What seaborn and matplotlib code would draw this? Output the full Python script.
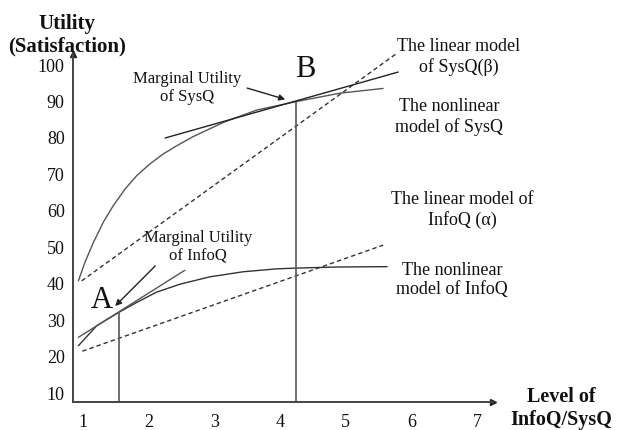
import numpy as np
import pandas as pd
import seaborn as sns
import matplotlib.pyplot as plt

# values
sysq_curve_x = [0.93, 1.03, 1.16, 1.31, 1.46, 1.64, 1.82, 2.02, 2.22, 2.43, 2.68,
                3.14, 3.65, 4.25, 4.91, 5.57]
sysq_curve_y = [40.5, 45.6, 51.1, 56.6, 61.1, 65.7, 69.4, 72.6, 75.3, 77.6, 80.1,
                84.0, 87.4, 89.7, 92.0, 93.3]
sysq_tangent_x = [2.25, 5.80]
sysq_tangent_y = [79.7, 97.8]
sysq_linear_x = [0.98, 5.83]
sysq_linear_y = [40.5, 103.6]

infoq_curve_x = [0.93, 1.21, 1.55, 1.82, 2.12, 2.48, 2.93, 3.44, 3.95, 4.25, 4.86, 5.63]
infoq_curve_y = [22.7, 28.2, 31.9, 34.6, 37.4, 39.6, 41.6, 43.0, 43.8, 44.0, 44.3, 44.4]
infoq_tangent_x = [0.93, 2.55]
infoq_tangent_y = [25.0, 43.4]
infoq_linear_x = [0.99, 5.57]
infoq_linear_y = [21.2, 50.3]

point_a = (1.55, 31.9)
point_b = (4.25, 89.7)

x_ticks = [1, 2, 3, 4, 5, 6, 7]
y_ticks = [10, 20, 30, 40, 50, 60, 70, 80, 90, 100]

sns.set_theme(style="white")
plt.rcParams['font.family'] = ['Liberation Serif', 'DejaVu Serif']

W, H = 617, 431
fig = plt.figure(figsize=(W / 100, H / 100), dpi=100)
ax = fig.add_axes([73 / W, 28 / H, (493 - 73) / W, (403 - 55) / H])

line_col = '#3a3a3a'
dash = (0, (3.2, 2.2))

def draw(xs, ys, style='-', col=line_col, lw=1.0):
    df = pd.DataFrame({'x': xs, 'y': ys})
    sns.lineplot(data=df, x='x', y='y', ax=ax, color=col, linewidth=lw,
                 estimator=None, sort=False)
    ax.lines[-1].set_linestyle(style)
    ax.lines[-1].set_solid_joinstyle('round')

draw(sysq_curve_x, sysq_curve_y, col='#555555')
draw(sysq_tangent_x, sysq_tangent_y, col='#222222')
draw(sysq_linear_x, sysq_linear_y, style=dash, col='#333333')
draw(infoq_curve_x, infoq_curve_y, col='#333333')
draw(infoq_tangent_x, infoq_tangent_y, col='#555555')
draw(infoq_linear_x, infoq_linear_y, style=dash, col='#333333')

ax.set_xlim(0.848, 7.243)
ax.set_ylim(7.26, 102.75)
ymin = ax.get_ylim()[0]
ax.vlines([point_a[0], point_b[0]], ymin, [point_a[1], point_b[1]],
          color='#555555', linewidth=1.2)

# axes with arrow heads
for side in ['top', 'right']:
    ax.spines[side].set_visible(False)
for side in ['left', 'bottom']:
    ax.spines[side].set_color('#444444')
    ax.spines[side].set_linewidth(1.4)
ax.plot(1, 0, '>', color='#222222', markersize=5, transform=ax.transAxes, clip_on=False)
ax.plot(0, 1, '^', color='#222222', markersize=5, transform=ax.transAxes, clip_on=False)

ax.set_xticks(x_ticks)
ax.set_yticks(y_ticks)
ax.tick_params(axis='both', length=0, labelsize=13, colors='#111111')
ax.tick_params(axis='x', pad=8)
ax.tick_params(axis='y', pad=6)
ax.set_xlabel('')
ax.set_ylabel('')

# marginal utility arrows
ax.annotate('', xy=(4.08, 90.3), xytext=(3.50, 93.4),
            arrowprops=dict(arrowstyle='-|>', color='#222222', lw=1.0,
                            mutation_scale=9, shrinkA=0, shrinkB=0))
ax.annotate('', xy=(1.49, 33.6), xytext=(2.10, 44.6),
            arrowprops=dict(arrowstyle='-|>', color='#222222', lw=1.0,
                            mutation_scale=9, shrinkA=0, shrinkB=0))

ax.text(1.29, 35.5, 'A', fontsize=22, ha='center', va='center', color='#111111')
ax.text(4.38, 98.9, 'B', fontsize=22, ha='center', va='center', color='#111111')

def ftext(px, py, s, **kw):
    fig.text(px / W, 1 - py / H, s, ha='center', va='center',
             linespacing=1.2, color='#111111', **kw)

ftext(187, 88, 'Marginal Utility\nof SysQ', fontsize=12)
ftext(198, 247, 'Marginal Utility\nof InfoQ', fontsize=12)
ftext(459, 57, 'The linear model\nof SysQ(\u03b2)', fontsize=13)
ftext(449, 117, 'The nonlinear\nmodel of SysQ', fontsize=13)
ftext(462, 210, 'The linear model of\nInfoQ (\u03b1)', fontsize=13)
ftext(452, 280, 'The nonlinear\nmodel of InfoQ', fontsize=13)
ftext(67, 35, 'Utility\n(Satisfaction)', fontsize=15, fontweight='bold')
ftext(561, 409, 'Level of\nInfoQ/SysQ', fontsize=14.5, fontweight='bold')

fig.savefig('out.png', dpi=100)
